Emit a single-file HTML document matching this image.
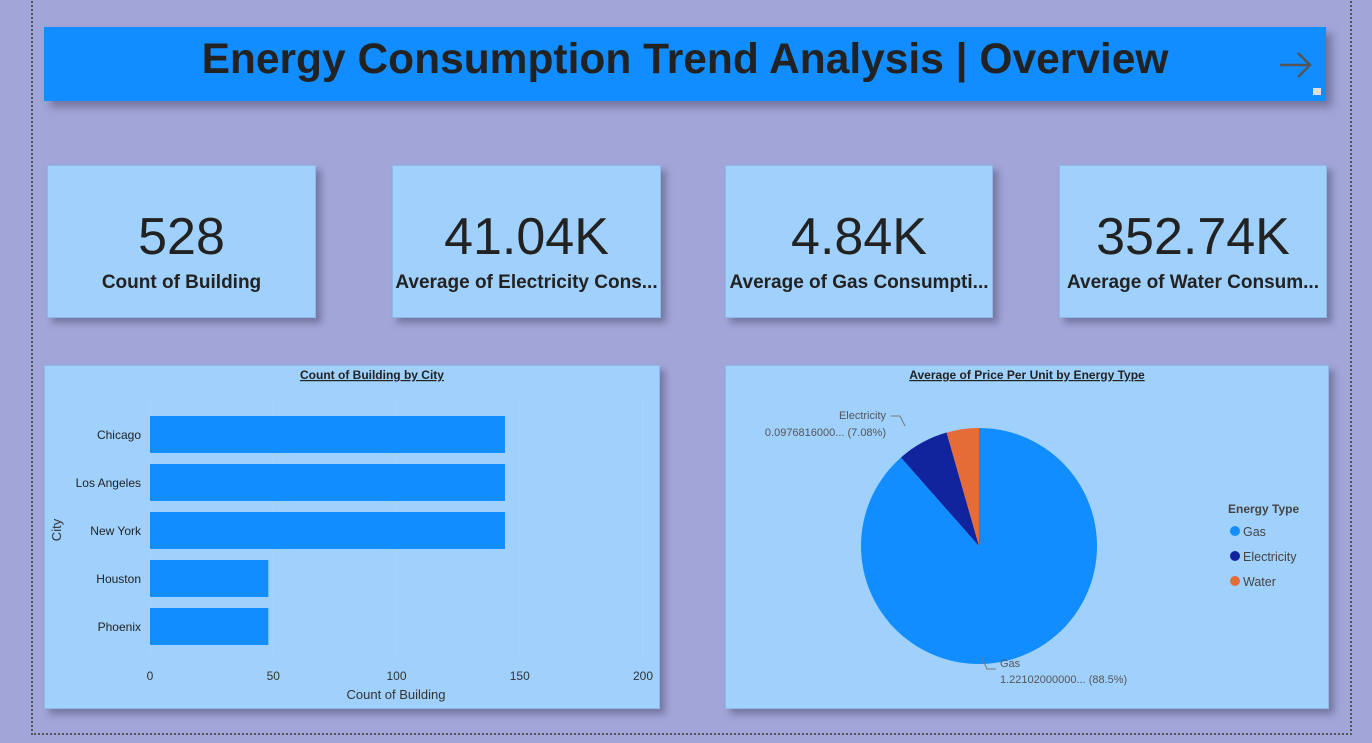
<!DOCTYPE html>
<html><head><meta charset="utf-8"><style>
*{box-sizing:border-box;margin:0;padding:0}
body{width:1372px;height:743px;background:#a2a5d8;font-family:"Liberation Sans","DejaVu Sans",sans-serif;position:relative;overflow:hidden}
.frame{position:absolute;left:31px;top:-2px;width:1321px;height:737px;border:2px dotted #555}
.header{position:absolute;left:44px;top:27px;width:1282px;height:74px;background:#118dff;box-shadow:6px 6px 8px rgba(60,60,90,.45);text-align:center;font-weight:bold;font-size:42.5px;line-height:66px;color:#222}
.card{position:absolute;top:165px;height:153px;background:#a0d1fd;box-shadow:5px 5px 7px rgba(60,60,90,.45);text-align:center;color:#222;border:1px solid #8fb8e8}
.card .v{font-size:52px;margin-top:42px;line-height:58px}
.card .l{font-size:19px;font-weight:bold;margin-top:6px;white-space:nowrap;overflow:hidden}
.panel{position:absolute;top:365px;height:344px;background:#a0d1fd;box-shadow:5px 5px 7px rgba(60,60,90,.45);border:1px solid #8fb8e8}
</style></head><body>
<div class="frame"></div>
<div class="header">Energy Consumption Trend Analysis | Overview
<svg style="position:absolute;left:1234px;top:22px" width="36" height="32"><path d="M2 16H32M20 4L32 16L20 28" stroke="#555" stroke-width="2.5" fill="none"/></svg>
<div style="position:absolute;left:1269px;top:61px;width:8px;height:7px;background:#ddd"></div>
</div>
<div class="card" style="left:47px;width:269px"><div class="v">528</div><div class="l">Count of Building</div></div>
<div class="card" style="left:392px;width:269px"><div class="v">41.04K</div><div class="l">Average of Electricity Cons...</div></div>
<div class="card" style="left:725px;width:268px"><div class="v">4.84K</div><div class="l">Average of Gas Consumpti...</div></div>
<div class="card" style="left:1059px;width:268px"><div class="v">352.74K</div><div class="l">Average of Water Consum...</div></div>

<div class="panel" style="left:44px;width:616px">
<svg id="bar" width="616" height="344" style="position:absolute;left:-1px;top:-1px"></svg></div>
<div class="panel" style="left:725px;width:604px">
<svg id="pie" width="604" height="344" style="position:absolute;left:-1px;top:-1px"></svg></div>

<script>
const cities=["Chicago","Los Angeles","New York","Houston","Phoenix"];
const counts=[144,144,144,48,48];
const xTicks=[0,50,100,150,200];
const types=["Gas","Electricity","Water"];
const prices=[1.22102,0.0976816,0.0611];
const typeColors=["#118dff","#12239e","#e66c37"];

const NS="http://www.w3.org/2000/svg";
function mk(p,t,a,txt){const e=document.createElementNS(NS,t);for(const k in a)e.setAttribute(k,a[k]);if(txt!==undefined)e.textContent=txt;p.appendChild(e);return e;}

const bar=document.getElementById('bar');
const x0=106,x1=599,yTop=27,band=48;
const xs=v=>x0+(x1-x0)*v/200;
let t=mk(bar,'text',{x:328,y:14,'text-anchor':'middle','font-size':12,'font-weight':'bold','fill':'#222','text-decoration':'underline'},'Count of Building by City');

xTicks.forEach(v=>{
 const g=mk(bar,'line',{x1:xs(v),x2:xs(v),y1:32,y2:290,stroke:'#c8ddf0','stroke-dasharray':'1,3'});
 
 const l=mk(bar,'text',{x:xs(v),y:315,'text-anchor':'middle','font-size':12,fill:'#333'},v);
 
});
cities.forEach((c,i)=>{
 const y=yTop+i*band+24;
 const r=mk(bar,'rect',{x:x0,y:y,width:xs(counts[i])-x0,height:37,fill:'#118dff'});
 
 const l=mk(bar,'text',{x:97,y:y+23,'text-anchor':'end','font-size':12,fill:'#222'},c);
 
});
t=mk(bar,'text',{x:352,y:334,'text-anchor':'middle','font-size':13,fill:'#333'},'Count of Building');

t=mk(bar,'text',{x:0,y:0,transform:'translate(17,165) rotate(-90)','text-anchor':'middle','font-size':13,fill:'#333'},'City');


const pie=document.getElementById('pie');
t=mk(pie,'text',{x:302,y:14,'text-anchor':'middle','font-size':12,'font-weight':'bold',fill:'#222','text-decoration':'underline'},'Average of Price Per Unit by Energy Type');

const cx=254,cy=181,R=118;
const total=prices.reduce((a,b)=>a+b,0);
let ang=0;
prices.forEach((p,i)=>{
 const a0=ang,a1=ang+p/total*2*Math.PI;ang=a1;
 const P=a=>[cx+R*Math.sin(a),cy-R*Math.cos(a)];
 const [sx,sy]=P(a0),[ex,ey]=P(a1);
 const s=mk(pie,'path',{d:`M${cx},${cy}L${sx},${sy}A${R},${R} 0 ${a1-a0>Math.PI?1:0} 1 ${ex},${ey}Z`,fill:typeColors[i]});
 
});
mk(pie,'path',{d:'M166,51L175,51L180,61',stroke:'#777',fill:'none'});
t=mk(pie,'text',{x:161,y:54,'text-anchor':'end','font-size':11,fill:'#555'},'Electricity');

mk(pie,'text',{x:161,y:71,'text-anchor':'end','font-size':11,fill:'#555'},'0.0976816000... ('+(prices[1]/total*100).toFixed(2)+'%)');
mk(pie,'path',{d:'M257,293L262,304L271,304',stroke:'#777',fill:'none'});
t=mk(pie,'text',{x:275,y:302,'font-size':11,fill:'#555'},'Gas');

mk(pie,'text',{x:275,y:318,'font-size':11,fill:'#555'},'1.22102000000... ('+(prices[0]/total*100).toFixed(1)+'%)');
t=mk(pie,'text',{x:503,y:148,'font-size':12,'font-weight':'bold',fill:'#444'},'Energy Type');

types.forEach((ty,i)=>{
 const y=166+i*25;
 const c=mk(pie,'circle',{cx:510,cy:y,r:5,fill:typeColors[i]});
 
 const l=mk(pie,'text',{x:518,y:y+5,'font-size':12.5,fill:'#444'},ty);
 
});
</script>
</body></html>
